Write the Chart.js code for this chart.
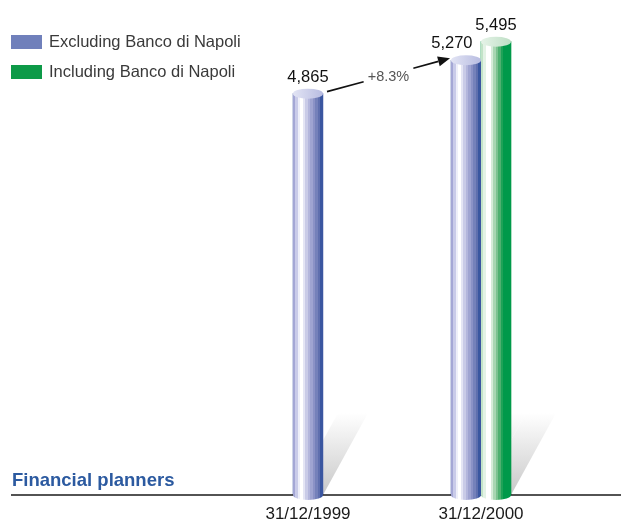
<!DOCTYPE html>
<html>
<head>
<meta charset="utf-8">
<script src="https://cdn.jsdelivr.net/npm/chart.js@4.4.1/dist/chart.umd.min.js"></script>
<style>
  html, body { margin: 0; padding: 0; background: #ffffff; }
  #wrap { position: relative; width: 621px; height: 523px; }
</style>
</head>
<body>
<div id="wrap"><canvas id="plannersChart"></canvas></div>
<script>
// Financial planners, year-end headcount
const dates = ['31/12/1999', '31/12/2000'];
const excludingBdN = [4865, 5270];
const includingBdN = [null, 5495];
const seriesNames = ['Excluding Banco di Napoli', 'Including Banco di Napoli'];

const FONT = '"Liberation Sans", Arial, sans-serif';

// stripe colours across each cylinder, left to right
const blueBands = ['#a4a7d5', '#c9cbe9', '#eeeff9', '#ffffff', '#e4e5f4', '#c9cbe7',
                   '#b3b6dc', '#9fa4d1', '#8b92c6', '#7581ba', '#5f6fae', '#3a56a0'];
const greenBands = ['#c2e3c8', '#e3f2e5', '#ffffff', '#ffffff', '#d6ecd9', '#a8d6b2',
                    '#7cc290', '#4fb070', '#1ea257', '#00994a', '#00994a', '#00994a'];
const capColors = [['#e2e4f4', '#b8bce1'], ['#e6f3e8', '#bedfc5']];

function bandGradient(ctx, left, w, bands) {
  const g = ctx.createLinearGradient(left, 0, left + w, 0);
  const n = bands.length;
  bands.forEach((c, i) => {
    g.addColorStop(i / n, c);
    g.addColorStop(Math.min(1, (i + 1) / n - 0.0001), c);
  });
  return g;
}

function drawCylinder(ctx, bar, bands, cap) {
  const rx = bar.width / 2, ry = 5;
  const left = bar.x - rx, right = bar.x + rx;
  ctx.save();
  ctx.fillStyle = bandGradient(ctx, left, bar.width, bands);
  ctx.beginPath();
  ctx.moveTo(left, bar.y);
  ctx.lineTo(left, bar.base);
  ctx.ellipse(bar.x, bar.base, rx, ry, 0, Math.PI, 0, true);
  ctx.lineTo(right, bar.y);
  ctx.closePath();
  ctx.fill();
  const cg = ctx.createLinearGradient(left, 0, right, 0);
  cg.addColorStop(0, cap[0]);
  cg.addColorStop(1, cap[1]);
  ctx.fillStyle = cg;
  ctx.beginPath();
  ctx.ellipse(bar.x, bar.y, rx, ry, 0, 0, Math.PI * 2);
  ctx.fill();
  ctx.restore();
}

const cylinders = {
  id: 'cylinders',
  beforeDatasetsDraw(chart) {
    // soft cast shadows leaning to the upper right
    const ctx = chart.ctx;
    chart.data.datasets.forEach((ds, di) => {
      chart.getDatasetMeta(di).data.forEach((bar, i) => {
        if (ds.data[i] == null) return;
        const left = bar.x - bar.width / 2, right = bar.x + bar.width / 2;
        const dx = 45, dy = 82;
        const g = ctx.createLinearGradient(0, bar.base, 0, bar.base - dy);
        g.addColorStop(0, '#c8c8c8');
        g.addColorStop(1, '#ffffff');
        ctx.save();
        ctx.fillStyle = g;
        ctx.beginPath();
        ctx.moveTo(left, bar.base);
        ctx.lineTo(right, bar.base);
        ctx.lineTo(right + dx, bar.base - dy);
        ctx.lineTo(left + dx, bar.base - dy);
        ctx.closePath();
        ctx.fill();
        ctx.restore();
      });
    });
  },
  afterDatasetsDraw(chart) {
    const ctx = chart.ctx;
    const area = chart.chartArea;

    // baseline
    ctx.save();
    ctx.strokeStyle = '#1a1a1a';
    ctx.lineWidth = 1.5;
    ctx.beginPath();
    ctx.moveTo(11, area.bottom);
    ctx.lineTo(chart.width, area.bottom);
    ctx.stroke();
    ctx.restore();

    chart.data.datasets.forEach((ds, di) => {
      const bands = di === 0 ? blueBands : greenBands;
      chart.getDatasetMeta(di).data.forEach((bar, i) => {
        if (ds.data[i] == null) return;
        drawCylinder(ctx, bar, bands, capColors[di]);
      });
    });

    // value labels
    ctx.save();
    ctx.font = '16.5px ' + FONT;
    ctx.fillStyle = '#111';
    ctx.textAlign = 'center';
    ctx.textBaseline = 'alphabetic';
    chart.data.datasets.forEach((ds, di) => {
      chart.getDatasetMeta(di).data.forEach((bar, i) => {
        const v = ds.data[i];
        if (v == null) return;
        let x = bar.x;
        const paired = chart.data.datasets.some((o, oi) => oi > di && o.data[i] != null);
        if (paired) x -= bar.width * 0.47;
        ctx.fillText(v.toLocaleString('en-US'), x, bar.y - 12);
      });
    });
    ctx.restore();

    // growth arrow between the two year-end bars
    const meta = chart.getDatasetMeta(0).data;
    const a = meta[0], b = meta[1];
    const x1 = a.x + a.width / 2 + 4, y1 = a.y - 2;
    const x2 = b.x - b.width / 2 - 1, y2 = b.y - 2;
    const growth = (excludingBdN[1] - excludingBdN[0]) / excludingBdN[0] * 100;
    const txt = '+' + growth.toFixed(1) + '%';
    ctx.save();
    ctx.font = '14.5px ' + FONT;
    const tw = ctx.measureText(txt).width;
    const mx = (x1 + x2) / 2, my = (y1 + y2) / 2;
    const len = Math.hypot(x2 - x1, y2 - y1);
    const ux = (x2 - x1) / len, uy = (y2 - y1) / len;
    const gap = tw / 2 + 5;
    const head = 12;
    ctx.strokeStyle = '#111';
    ctx.fillStyle = '#111';
    ctx.lineWidth = 1.6;
    ctx.beginPath();
    ctx.moveTo(x1, y1);
    ctx.lineTo(mx - ux * gap, my - uy * gap);
    ctx.moveTo(mx + ux * gap, my + uy * gap);
    ctx.lineTo(x2 - ux * head, y2 - uy * head);
    ctx.stroke();
    ctx.beginPath();
    ctx.moveTo(x2, y2);
    ctx.lineTo(x2 - ux * head - uy * 5, y2 - uy * head + ux * 5);
    ctx.lineTo(x2 - ux * head + uy * 5, y2 - uy * head - ux * 5);
    ctx.closePath();
    ctx.fill();
    ctx.fillStyle = '#555';
    ctx.textAlign = 'center';
    ctx.textBaseline = 'middle';
    ctx.fillText(txt, mx, my + 2);
    ctx.restore();
  },
  afterDraw(chart) {
    const ctx = chart.ctx;
    ctx.save();
    // legend
    ctx.font = '16.5px ' + FONT;
    ctx.textBaseline = 'middle';
    chart.data.datasets.forEach((ds, di) => {
      const y = 35 + di * 30;
      ctx.fillStyle = ds.backgroundColor;
      ctx.fillRect(11, y, 31, 14);
      ctx.fillStyle = '#3a3a3a';
      ctx.fillText(ds.label, 49, y + 7.5);
    });
    // section title
    ctx.font = 'bold 18.5px ' + FONT;
    ctx.fillStyle = '#2c5aa0';
    ctx.textBaseline = 'alphabetic';
    ctx.fillText('Financial planners', 12, 486);
    ctx.restore();
  }
};

new Chart(document.getElementById('plannersChart'), {
  type: 'bar',
  data: {
    labels: dates,
    datasets: [
      { label: seriesNames[0], data: excludingBdN, backgroundColor: '#7080bb' },
      { label: seriesNames[1], data: includingBdN, backgroundColor: '#0d9a48' }
    ]
  },
  options: {
    responsive: true,
    maintainAspectRatio: false,
    animation: false,
    layout: { padding: { left: 221.5, right: 53.5, top: 0, bottom: 0 } },
    datasets: { bar: { barThickness: 30, skipNull: true } },
    scales: {
      x: {
        grid: { display: false, drawTicks: false },
        border: { display: false },
        ticks: { color: '#1a1a1a', font: { family: FONT, size: 17 }, padding: 9 },
        afterFit(scale) { scale.height = 28; }
      },
      y: { display: false, min: 0, max: 6000 }
    },
    plugins: {
      legend: { display: false },
      tooltip: { enabled: false }
    }
  },
  plugins: [cylinders]
});
</script>
</body>
</html>
